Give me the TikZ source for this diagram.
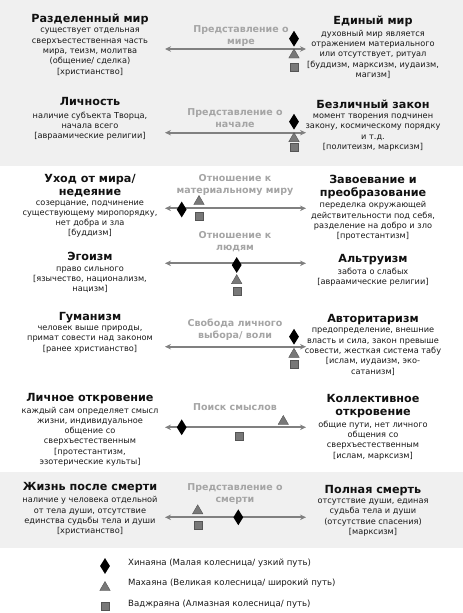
\documentclass[tikz,border=0pt]{standalone}
\usepackage{fontspec}
\setmainfont{DejaVu Sans}
\usepackage{xcolor}
\usetikzlibrary{arrows.meta, positioning, shapes.geometric}
\definecolor{bandgray}{RGB}{240, 240, 240}
\definecolor{axisgray}{RGB}{128, 128, 128}
\definecolor{labelgray}{RGB}{165, 165, 165}
\definecolor{markgray}{RGB}{120, 120, 120}
\definecolor{markedge}{RGB}{85, 85, 85}
\definecolor{titleblack}{RGB}{17, 17, 17}
\definecolor{descblack}{RGB}{25, 25, 25}

\begin{document}
\begin{tikzpicture}[x=1pt, y=-1pt,
    title/.style={font=\fontsize{11.2}{12.7}\selectfont\bfseries, text=titleblack, align=center, inner sep=0pt, anchor=north, execute at begin node=\strut, execute at end node=\strut},
    desc/.style={font=\fontsize{8.2}{10.3}\selectfont, text=descblack, align=center, inner sep=0pt, execute at begin node=\strut},
    axislabel/.style={font=\fontsize{9.5}{12.3}\selectfont\bfseries, text=labelgray, align=center, inner sep=0pt, anchor=north, execute at begin node=\strut},
    axis/.style={{Stealth[length=6pt, width=5.5pt]}-{Stealth[length=6pt, width=5.5pt]}, line width=2pt, axisgray},
    hinayana/.style={diamond, fill=black, minimum width=10pt, minimum height=16pt, inner sep=0pt},
    mahayana/.style={regular polygon, regular polygon sides=3, fill=markgray, draw=markedge, minimum size=12pt, inner sep=0pt},
    vajrayana/.style={rectangle, fill=markgray, draw=markedge, minimum size=8pt, inner sep=0pt},
    legendtext/.style={font=\fontsize{8.6}{10}\selectfont, text=descblack, anchor=west, inner sep=0pt}
]

% Background bands
\useasboundingbox (0,0) rectangle (463,613);
\fill[white] (0,0) rectangle (463,613);
\fill[bandgray] (0,0) rectangle (463,166);
\fill[bandgray] (0,472) rectangle (463,548);

% Row 1: world
\node[title] (l1t) at (90,13.5) {Разделенный мир};
\node[desc, below=1.5pt of l1t] (l1d) {существует отдельная\\сверхъестественная часть\\мира, теизм, молитва\\(общение/ сделка)\\{[христианство]}};
\node[title] (r1t) at (373,15.2) {Единый мир};
\node[desc, below=1.5pt of r1t] (r1d) {духовный мир является\\отражением материального\\или отсутствует, ритуал\\{[буддизм, марксизм, иудаизм,}\\магизм]};
\node[axislabel] (x1) at (241,24.9) {Представление о\\мире};
\coordinate (a1l) at (165,49);
\coordinate (a1r) at (306,49);
\draw[axis] (a1l) -- (a1r);
\node[hinayana] (h1) at (294,38.7) {};
\node[mahayana] (m1) at (294,55) {};
\node[vajrayana] (v1) at (294,66.7) {};

% Row 2: origin
\node[title] (l2t) at (90,96.9) {Личность};
\node[desc, below=1.5pt of l2t] (l2d) {наличие субъекта Творца,\\начала всего\\{[авраамические религии]}};
\node[title] (r2t) at (373,99.2) {Безличный закон};
\node[desc, below=1.5pt of r2t] (r2d) {момент творения подчинен\\закону, космическому порядку\\и т.д.\\{[политеизм, марксизм]}};
\node[axislabel] (x2) at (235,108.2) {Представление о\\начале};
\coordinate (a2l) at (165,132.7);
\coordinate (a2r) at (306,132.7);
\draw[axis] (a2l) -- (a2r);
\node[hinayana] (h2) at (294,121.7) {};
\node[mahayana] (m2) at (294,138.6) {};
\node[vajrayana] (v2) at (294,147.5) {};

% Row 3: material world
\node[title] (l3t) at (90,174.2) {Уход от мира/\\недеяние};
\node[desc, below=1pt of l3t] (l3d) {созерцание, подчинение\\существующему миропорядку,\\нет добра и зла\\{[буддизм]}};
\node[title] (r3t) at (373,175.2) {Завоевание и\\преобразование};
\node[desc, below=1pt of r3t] (r3d) {переделка окружающей\\действительности под себя,\\разделение на добро и зло\\{[протестантизм]}};
\node[axislabel] (x3) at (235,173.9) {Отношение к\\материальному миру};
\coordinate (a3l) at (165,208.3);
\coordinate (a3r) at (306,208.3);
\draw[axis] (a3l) -- (a3r);
\node[hinayana] (h3) at (181.7,209.5) {};
\node[mahayana] (m3) at (199,201.5) {};
\node[vajrayana] (v3) at (199,215.7) {};

% Row 4: people
\node[title] (l4t) at (90,251.9) {Эгоизм};
\node[desc, below=1.5pt of l4t] (l4d) {право сильного\\{[язычество, национализм,}\\нацизм]};
\node[title] (r4t) at (373,253.5) {Альтруизм};
\node[desc, below=1.5pt of r4t] (r4d) {забота о слабых\\{[авраамические религии]}};
\node[axislabel] (x4) at (235,230.9) {Отношение к\\людям};
\coordinate (a4l) at (165,263.3);
\coordinate (a4r) at (306,263.3);
\draw[axis] (a4l) -- (a4r);
\node[hinayana] (h4) at (236.7,265) {};
\node[mahayana] (m4) at (236.7,280.6) {};
\node[vajrayana] (v4) at (236.7,291.5) {};

% Row 5: free will
\node[title] (l5t) at (90,311.2) {Гуманизм};
\node[desc, below=1.5pt of l5t] (l5d) {человек выше природы,\\примат совести над законом\\{[ранее христианство]}};
\node[title] (r5t) at (373,313.5) {Авторитаризм};
\node[desc, below=1.5pt of r5t] (r5d) {предопределение, внешние\\власть и сила, закон превыше\\совести, жесткая система табу\\{[ислам, иудаизм, эко-}\\сатанизм]};
\node[axislabel] (x5) at (235,318.9) {Свобода личного\\выбора/ воли};
\coordinate (a5l) at (165,346.7);
\coordinate (a5r) at (306,346.7);
\draw[axis] (a5l) -- (a5r);
\node[hinayana] (h5) at (294,336.7) {};
\node[mahayana] (m5) at (294,354.3) {};
\node[vajrayana] (v5) at (294,364.5) {};

% Row 6: meaning
\node[title] (l6t) at (90,392.5) {Личное откровение};
\node[desc, below=1pt of l6t] (l6d) {каждый сам определяет смысл\\жизни, индивидуальное\\общение со\\сверхъестественным\\{[протестантизм,}\\эзотерические культы]};
\node[title] (r6t) at (373,394.5) {Коллективное\\откровение};
\node[desc, below=1pt of r6t] (r6d) {общие пути, нет личного\\общения со\\сверхъестественным\\{[ислам, марксизм]}};
\node[axislabel] (x6) at (235,401.6) {Поиск смыслов};
\coordinate (a6l) at (165,427.3);
\coordinate (a6r) at (306,427.3);
\draw[axis] (a6l) -- (a6r);
\node[hinayana] (h6) at (181.7,427.3) {};
\node[mahayana] (m6) at (283.3,421.5) {};
\node[vajrayana] (v6) at (239.3,436) {};

% Row 7: death
\node[title] (l7t) at (90,481.9) {Жизнь после смерти};
\node[desc, below=1.5pt of l7t] (l7d) {наличие у человека отдельной\\от тела души, отсутствие\\единства судьбы тела и души\\{[христианство]}};
\node[title] (r7t) at (373,484.2) {Полная смерть};
\node[desc, below=1.5pt of r7t] (r7d) {отсутствие души, единая\\судьба тела и души\\(отсутствие спасения)\\{[марксизм]}};
\node[axislabel] (x7) at (235,483.2) {Представление о\\смерти};
\coordinate (a7l) at (165,517.3);
\coordinate (a7r) at (306,517.3);
\draw[axis] (a7l) -- (a7r);
\node[hinayana] (h7) at (238.3,517.3) {};
\node[mahayana] (m7) at (197.7,510.8) {};
\node[vajrayana] (v7) at (197.7,525) {};

% Legend
\node[hinayana] (hl) at (105,566) {};
\node[mahayana] (ml) at (105,587.5) {};
\node[vajrayana] (vl) at (105,605.7) {};
\node[legendtext] (hlt) at (128,562.7) {Хинаяна (Малая колесница/ узкий путь)};
\node[legendtext] (mlt) at (128,583.3) {Махаяна (Великая колесница/ широкий путь)};
\node[legendtext] (vlt) at (128,604.3) {Ваджраяна (Алмазная колесница/ путь)};

\end{tikzpicture}
\end{document}
